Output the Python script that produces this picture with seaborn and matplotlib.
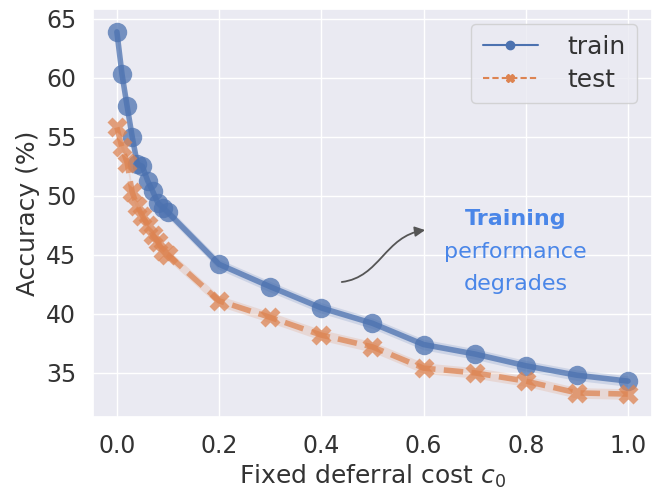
import matplotlib
matplotlib.use("Agg")
import matplotlib.pyplot as plt
from matplotlib.lines import Line2D
from matplotlib.patches import FancyArrowPatch
from matplotlib.path import Path
import seaborn as sns
import pandas as pd

cost = [0.0, 0.01, 0.02, 0.03, 0.04, 0.05, 0.06, 0.07, 0.08, 0.09, 0.1,
        0.2, 0.3, 0.4, 0.5, 0.6, 0.7, 0.8, 0.9, 1.0]
train_acc = [63.9, 60.3, 57.6, 55.0, 52.7, 52.5, 51.3, 50.4, 49.4, 49.0, 48.6,
             44.2, 42.3, 40.5, 39.2, 37.4, 36.6, 35.6, 34.8, 34.3]
test_acc = [55.8, 54.1, 52.8, 50.3, 49.1, 48.3, 47.5, 46.7, 46.1, 45.3, 45.0,
            41.1, 39.7, 38.2, 37.2, 35.4, 35.0, 34.3, 33.3, 33.2]
band = 0.45
series_names = ["train", "test"]
xticks = [0.0, 0.2, 0.4, 0.6, 0.8, 1.0]
yticks = [35, 40, 45, 50, 55, 60, 65]

sns.set_theme(style="darkgrid")
plt.rcParams['font.family'] = ['DejaVu Sans']

df = pd.DataFrame({
    "cost": cost + cost,
    "acc": train_acc + test_acc,
    "split": ["train"] * len(cost) + ["test"] * len(cost),
})

colors = {"train": "#4c72b0", "test": "#dd8452"}

fig = plt.figure(figsize=(6.54, 4.91), dpi=100)
ax = fig.add_axes([0.142, 0.151, 0.855, 0.831])

for name, vals in (("train", train_acc), ("test", test_acc)):
    ax.fill_between(cost, [v - band for v in vals], [v + band for v in vals],
                    color=colors[name], alpha=0.18, lw=0)

sns.lineplot(data=df, x="cost", y="acc", hue="split", style="split",
             markers={"train": "o", "test": "X"},
             dashes={"train": "", "test": (3.5, 1.5)},
             palette=colors, markersize=14, linewidth=4, alpha=0.75,
             markeredgecolor="none", legend=False, ax=ax, errorbar=None)

ax.set_xlim(-0.047, 1.047)
ax.set_ylim(31.27, 65.85)
ax.set_xticks(xticks)
ax.set_xticklabels([f"{t:.1f}" for t in xticks])
ax.set_yticks(yticks)
ax.tick_params(labelsize=17, pad=6, labelcolor="#333333")
ax.set_xlabel("Fixed deferral cost $c_0$", fontsize=18, color="#333333")
ax.set_ylabel("Accuracy (%)", fontsize=18, color="#333333")

handles = [
    Line2D([0], [0], color=colors["train"], marker="o", lw=1.5, markersize=6),
    Line2D([0], [0], color=colors["test"], marker="X", lw=1.5, markersize=6,
           linestyle=(0, (3, 1.5))),
]
leg = ax.legend(handles, series_names, loc="upper right", fontsize=18,
                handlelength=2.2, borderpad=0.45, labelspacing=0.35,
                handletextpad=1.2, borderaxespad=0.6)
for t in leg.get_texts():
    t.set_color("#333333")

ax.text(0.78, 48.0, "Training", color="#4a86e8", fontsize=16,
        fontweight="bold", ha="center", va="center")
ax.text(0.78, 45.2, "performance", color="#4a86e8", fontsize=16,
        ha="center", va="center")
ax.text(0.78, 42.5, "degrades", color="#4a86e8", fontsize=16,
        ha="center", va="center")

verts = [(0.440, 42.7), (0.515, 43.1), (0.524, 46.6), (0.603, 47.1)]
path = Path(verts, [Path.MOVETO, Path.CURVE4, Path.CURVE4, Path.CURVE4])
arrow = FancyArrowPatch(path=path, arrowstyle="-|>,head_length=6,head_width=3",
                        color="#555555", lw=1.3)
ax.add_patch(arrow)

fig.savefig("out.png", dpi=100)
